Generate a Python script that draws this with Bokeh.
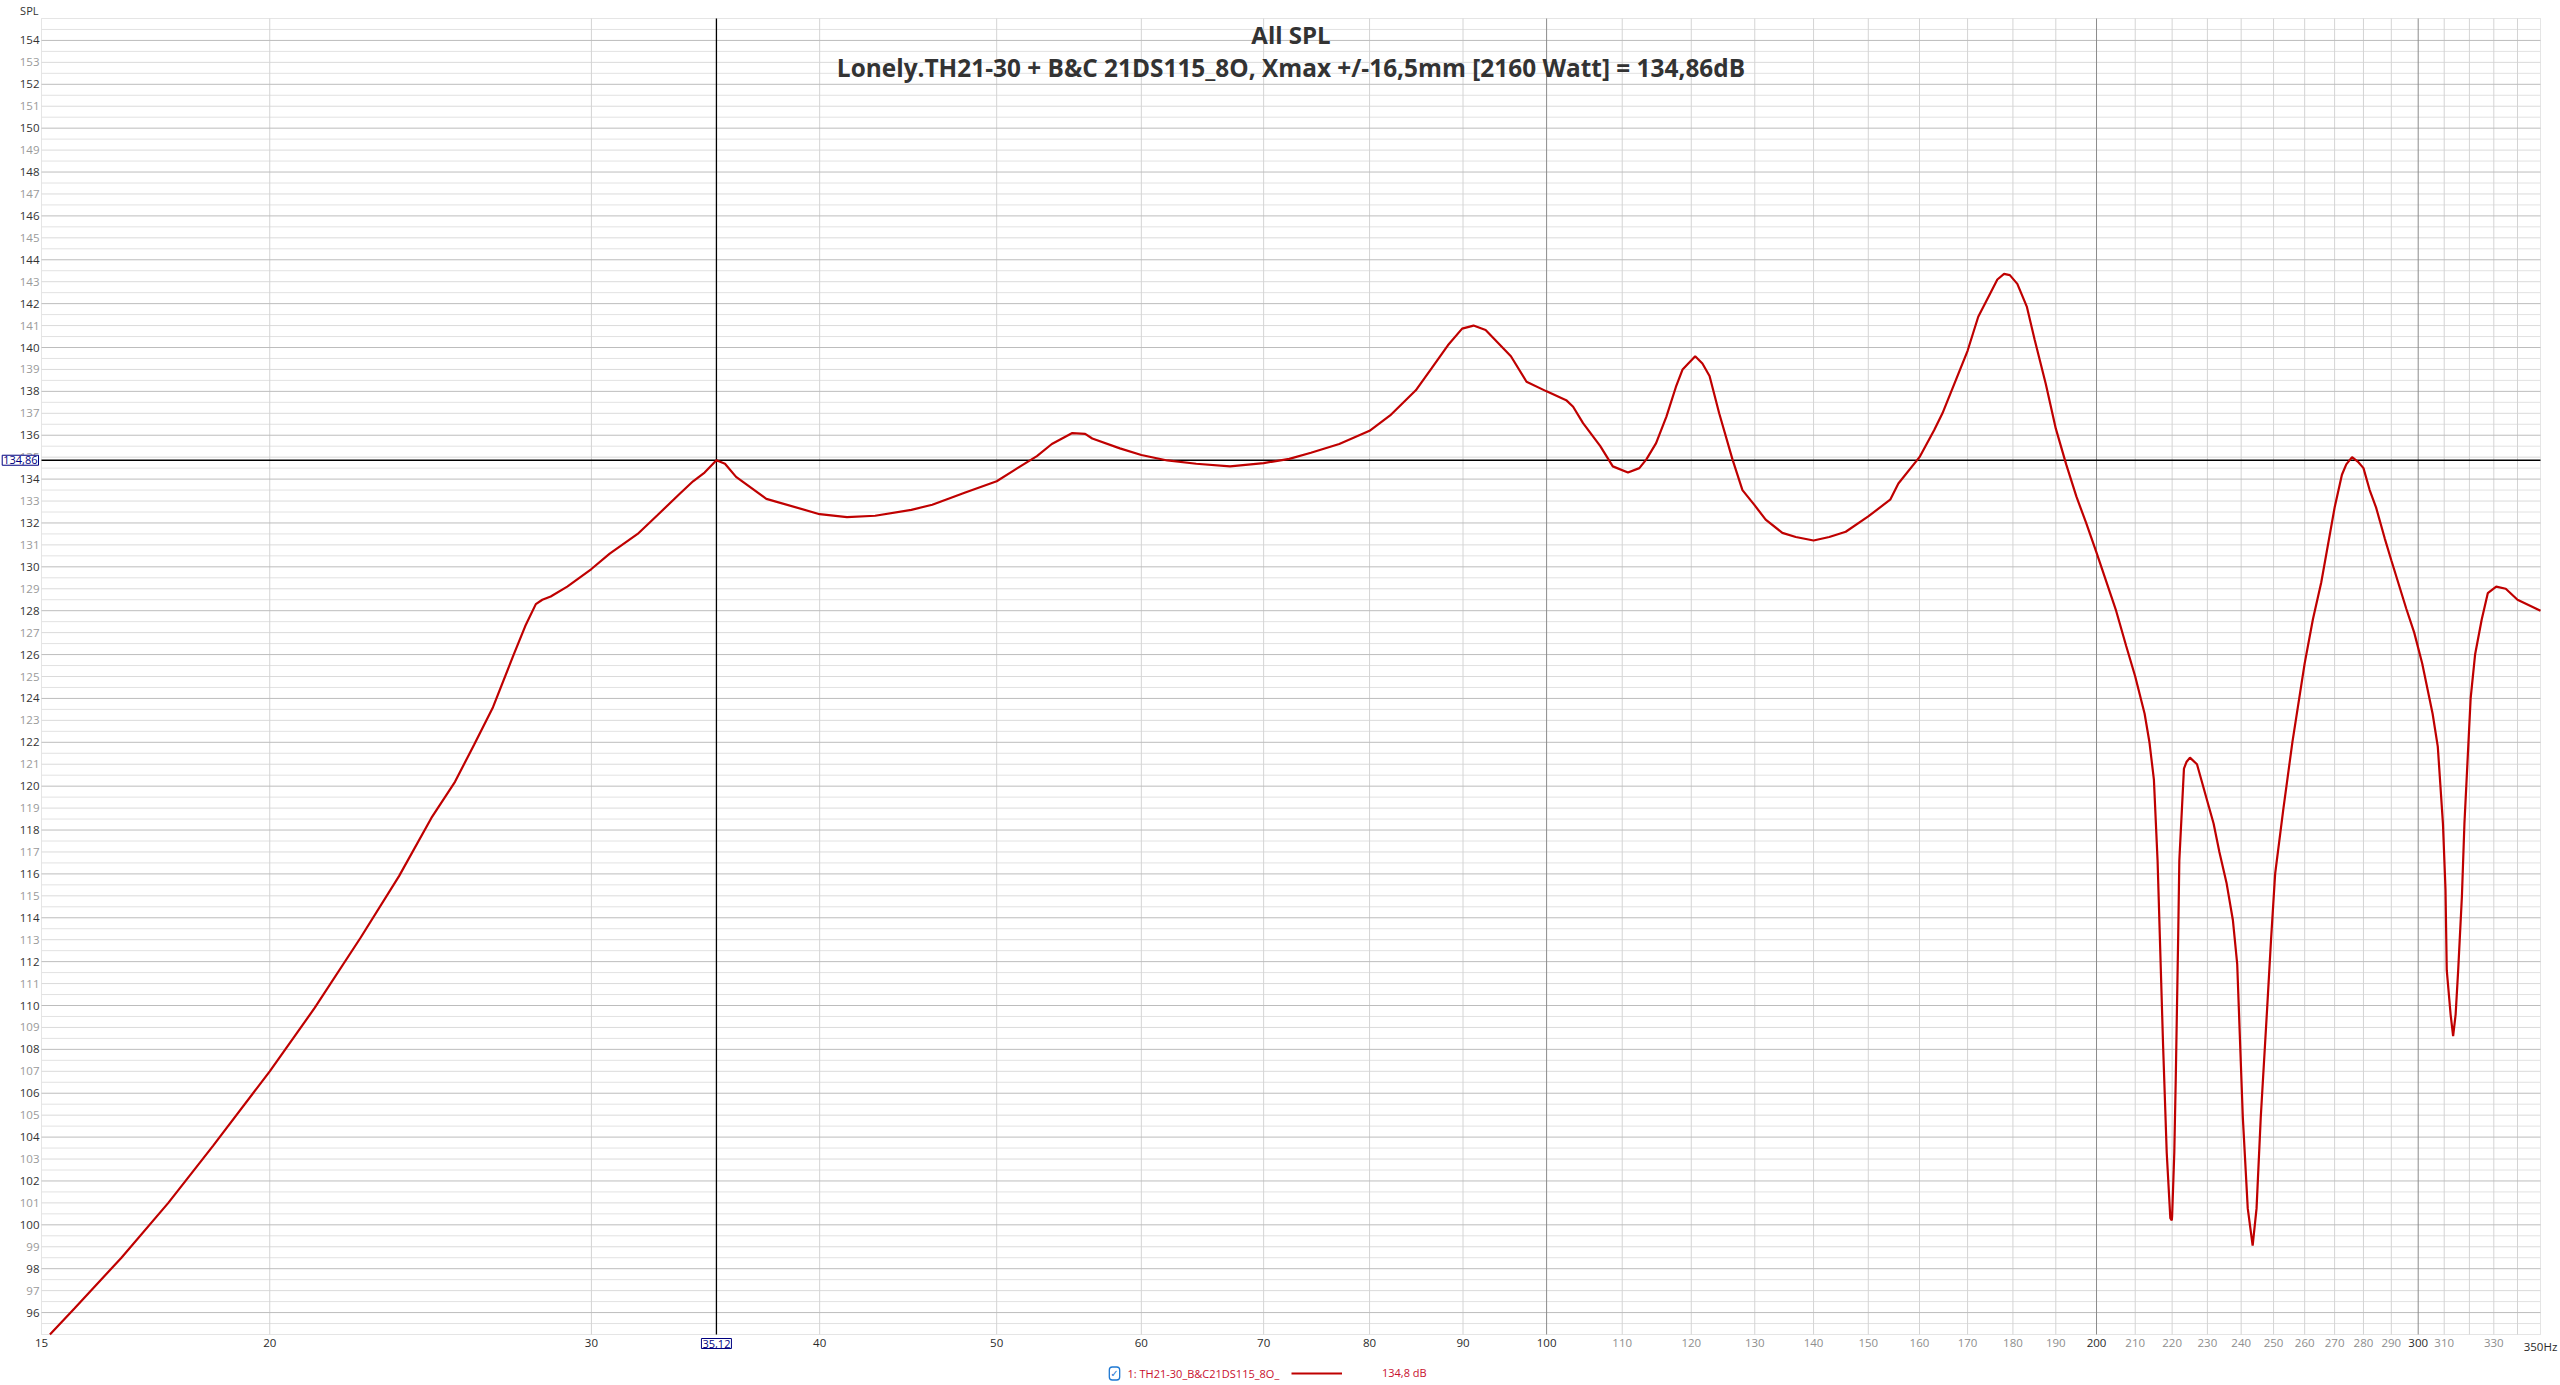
import math
from bokeh.plotting import figure
from bokeh.models import (Label, ColumnDataSource, Legend, LegendItem, Range1d, BoxAnnotation)
from bokeh.embed import file_html
from bokeh.resources import INLINE
from bokeh.core.properties import value

# ---------------- data ----------------
freq_hz = [15.16, 15.64, 16.59, 17.6, 18.62, 20.0, 21.17, 22.43, 23.54, 24.52, 25.26, 25.88, 26.5,
           27.2, 27.6, 27.97, 28.2, 28.5, 29.1, 30.0, 30.7, 31.8, 32.6, 33.5, 34.1, 34.6, 35.12,
           35.5, 36.0, 37.4, 40.0, 41.4, 42.9, 44.9, 46.1, 48.1, 50.0, 51.1, 52.6, 53.6, 55.0,
           55.9, 56.4, 58.4, 60.0, 62.0, 64.3, 67.1, 70.0, 72.3, 74.3, 77.0, 80.0, 82.1, 84.8,
           86.5, 88.3, 89.9, 91.2, 92.6, 95.6, 97.5, 100.0, 102.5, 103.4, 104.7, 107.0, 108.7,
           110.8, 112.4, 113.4, 114.8, 116.3, 117.7, 118.7, 120.6, 121.7, 122.8, 124.3, 126.4,
           128.0, 130.0, 131.8, 134.6, 136.9, 140.0, 142.8, 145.8, 150.0, 154.2, 155.8, 160.0,
           163.0, 164.7, 170.0, 172.3, 175.0, 176.5, 178.0, 179.3, 181.0, 183.2, 185.0, 187.6,
           190.0, 192.5, 195.0, 197.4, 200.0, 205.0, 207.6, 210.0, 212.5, 213.8, 215.0, 216.0,
           217.5, 218.5, 219.5, 219.9, 220.0, 220.6, 221.0, 221.7, 222.0, 223.3, 224.0, 225.0,
           227.0, 230.0, 231.8, 233.5, 235.6, 237.5, 238.8, 240.5, 242.0, 243.5, 244.7, 246.0,
           248.0, 249.2, 250.5, 253.1, 256.0, 260.0, 262.7, 265.5, 270.0, 272.5, 274.0, 276.0,
           278.0, 280.0, 282.2, 284.5, 287.6, 290.0, 295.5, 298.5, 301.5, 305.5, 307.5, 309.5,
           310.5, 311.0, 312.5, 313.5, 314.5, 315.5, 317.0, 318.0, 320.5, 322.3, 325.0, 327.5,
           331.0, 335.0, 340.0, 350.0]
spl_db = [95.0, 96.2, 98.5, 101.0, 103.6, 107.0, 109.9, 113.1, 115.9, 118.55, 120.2, 121.9, 123.6,
          126.0, 127.3, 128.3, 128.5, 128.65, 129.1, 129.9, 130.6, 131.5, 132.35, 133.3, 133.9, 134.3, 134.86,
          134.7, 134.1, 133.1, 132.4, 132.27, 132.33, 132.6, 132.83, 133.4, 133.9, 134.4, 135.05, 135.6, 136.1,
          136.06, 135.85, 135.4, 135.1, 134.85, 134.7, 134.58, 134.73, 134.92, 135.2, 135.6, 136.2, 136.9, 138.05,
          139.05, 140.1, 140.86, 141.0, 140.8, 139.6, 138.44, 138.0, 137.6, 137.3, 136.55, 135.5, 134.58,
          134.3, 134.5, 134.9, 135.64, 136.85, 138.2, 139.0, 139.6, 139.27, 138.7, 137.0, 134.9,
          133.5, 132.8, 132.15, 131.55, 131.36, 131.2, 131.36, 131.6, 132.3, 133.06, 133.8, 135.0,
          136.24, 137.0, 139.85, 141.4, 142.5, 143.1, 143.36, 143.3, 142.9, 141.85, 140.35, 138.35,
          136.3, 134.67, 133.2, 132.0, 130.65, 128.0, 126.4, 125.0, 123.3, 122.0, 120.3, 116.6,
          108.2, 103.3, 100.3, 100.2, 100.4, 103.3, 106.6, 113.3, 116.6, 120.8, 121.1, 121.3,
          121.0, 119.3, 118.3, 117.0, 115.6, 113.9, 111.9, 104.9, 100.75, 99.05, 100.75, 104.9,
          109.9, 112.98, 116.0, 118.95, 122.0, 125.6, 127.6, 129.3, 132.7, 134.2, 134.67, 135.0,
          134.8, 134.5, 133.5, 132.7, 131.3, 130.3, 128.1, 127.0, 125.6, 123.3, 121.8, 118.3,
          115.3, 111.6, 109.6, 108.6, 109.6, 111.6, 115.0, 118.3, 124.0, 126.0, 127.6, 128.8,
          129.1, 129.0, 128.5, 128.0]

title_main = "All SPL"
title_sub = "Lonely.TH21-30 + B&C 21DS115_8O, Xmax +/-16,5mm [2160 Watt] = 134,86dB"
legend_name = "1: TH21-30_B&C21DS115_8O_"
legend_value = "134,8 dB"
y_unit = "SPL"
cursor_freq = 35.12
cursor_spl = 134.86
cursor_freq_label = "35,12"
cursor_spl_label = "134,86"

x_min, x_max = 15, 350
y_min, y_max = 95, 155

y_ticks_even = list(range(96, 155, 2))
y_ticks_odd = list(range(97, 155, 2))
y_grid_half = [v + 0.5 for v in range(95, 155)]

x_ticks_dark = [15, 20, 30, 40, 50, 60, 70, 80, 90, 100, 200, 300, 350]
x_ticks_gray = [110, 120, 130, 140, 150, 160, 170, 180, 190,
                210, 220, 230, 240, 250, 260, 270, 280, 290, 310, 330]
x_label_unit = {350: "350Hz"}
x_grid_light = [20, 30, 40, 50, 60, 70, 80, 90,
                110, 120, 130, 140, 150, 160, 170, 180, 190,
                210, 220, 230, 240, 250, 260, 270, 280, 290,
                310, 320, 330, 340]
x_grid_strong = [100, 200, 300]

# ---------------- layout (pixels) ----------------
W, H = 2560, 1385
PAD_L, PAD_R, PAD_T, PAD_B = 41, 20, 18, 51
plot_w = W - PAD_L - PAD_R
plot_h = H - PAD_T - PAD_B
px_per_dec = plot_w / math.log10(x_max / x_min)
px_per_db = plot_h / (y_max - y_min)
view_x0 = x_min / 10 ** (PAD_L / px_per_dec)
view_x1 = x_max * 10 ** (PAD_R / px_per_dec)
view_y0 = y_min - PAD_B / px_per_db
view_y1 = y_max + PAD_T / px_per_db

FONT = "Open Sans"
RED = "#bf0000"
LEG_RED = "#c8102e"
NAVY = "#000080"
TICK_SIZE = "11.5px"

p = figure(width=W, height=H, x_axis_type="log",
           x_range=Range1d(view_x0, view_x1), y_range=Range1d(view_y0, view_y1),
           x_axis_location=None, y_axis_location=None,
           output_backend="svg", toolbar_location=None,
           min_border=0, min_border_left=0, min_border_right=0,
           min_border_top=0, min_border_bottom=0)
p.outline_line_color = None
p.background_fill_color = "white"
p.border_fill_color = "white"
p.grid.visible = False

# ---------------- grid ----------------
def hgrid(ticks, color):
    p.segment(x0=[x_min] * len(ticks), x1=[x_max] * len(ticks), y0=ticks, y1=ticks,
              line_color=color, line_width=1)

def vgrid(ticks, color):
    p.segment(x0=ticks, x1=ticks, y0=[y_min] * len(ticks), y1=[y_max] * len(ticks),
              line_color=color, line_width=1)

hgrid(y_grid_half, "#e2e2e2")
hgrid(y_ticks_odd, "#dadada")
vgrid(x_grid_light, "#d4d4d4")
hgrid(y_ticks_even, "#bdbdbd")
vgrid(x_grid_strong, "#8c8c8c")

p.add_layout(BoxAnnotation(left=x_min, right=x_max, bottom=y_min, top=y_max,
                           fill_alpha=0, line_color="#a8a8a8", line_width=1, level="underlay"))

# ---------------- cursor ----------------
p.segment(x0=[cursor_freq], x1=[cursor_freq], y0=[y_min], y1=[y_max],
          line_color="black", line_width=1.3)
p.segment(x0=[x_min], x1=[x_max], y0=[cursor_spl], y1=[cursor_spl],
          line_color="black", line_width=1.3)

# ---------------- curve ----------------
r = p.line(freq_hz, spl_db, line_color=RED, line_width=2.2)

# ---------------- tick labels ----------------
yl_vals = y_ticks_even + y_ticks_odd
yl_src = ColumnDataSource(dict(
    x=[x_min] * len(yl_vals), y=yl_vals, t=[str(v) for v in yl_vals],
    c=["#333333"] * len(y_ticks_even) + ["#9a9a9a"] * len(y_ticks_odd)))
p.text(x="x", y="y", text="t", text_color="c", source=yl_src, x_offset=-2,
       text_align="right", text_baseline="middle",
       text_font=value(FONT), text_font_size=value(TICK_SIZE))

xl_vals = x_ticks_dark + x_ticks_gray
xl_src = ColumnDataSource(dict(
    x=xl_vals, y=[y_min] * len(xl_vals),
    t=[x_label_unit.get(v, str(v)) for v in xl_vals],
    c=["#2a2a2a"] * len(x_ticks_dark) + ["#8e8e8e"] * len(x_ticks_gray)))
p.text(x="x", y="y", text="t", text_color="c", source=xl_src, y_offset=4,
       text_align="center", text_baseline="top",
       text_font=value(FONT), text_font_size=value(TICK_SIZE))

# unit label
p.add_layout(Label(x=x_min, y=y_max, text=y_unit, x_offset=-3, y_offset=16,
                   text_align="right", text_baseline="top", text_font=FONT,
                   text_font_size="11px", text_color="#333333"))

# cursor value boxes
p.add_layout(Label(x=x_min, y=cursor_spl, text=cursor_spl_label, x_offset=-3,
                   text_align="right", text_baseline="middle", text_font=FONT,
                   text_font_size="11px", text_color=NAVY, border_line_color=NAVY,
                   border_line_width=1, background_fill_color="white", padding=1))
p.add_layout(Label(x=cursor_freq, y=y_min, text=cursor_freq_label, y_offset=-4,
                   text_align="center", text_baseline="top", text_font=FONT,
                   text_font_size="11px", text_color=NAVY, border_line_color=NAVY,
                   border_line_width=1, background_fill_color="white", padding=1))

# ---------------- titles ----------------
p.add_layout(Label(x=x_min, y=y_max, text=title_main, x_offset=plot_w / 2, y_offset=-16,
                   text_align="center", text_baseline="middle", text_font=FONT,
                   text_font_size="24px", text_font_style="bold", text_color="#333333"))
p.add_layout(Label(x=x_min, y=y_max, text=title_sub, x_offset=plot_w / 2, y_offset=-49,
                   text_align="center", text_baseline="middle", text_font=FONT,
                   text_font_size="24.4px", text_font_style="bold", text_color="#333333"))

# ---------------- legend row ----------------
p.add_layout(Label(x=x_min, y=y_min, text="\u2713", x_offset=1073, y_offset=-39,
                   text_align="center", text_baseline="middle", text_font="DejaVu Sans",
                   text_font_size="10px", text_font_style="bold", text_color="#1e78d2",
                   border_line_color="#1e78d2", border_line_width=1.3, border_radius=3,
                   background_fill_color="white", padding=1))
p.add_layout(Label(x=x_min, y=y_min, text=legend_name, x_offset=1086, y_offset=-39,
                   text_align="left", text_baseline="middle", text_font=FONT,
                   text_font_size="11px", text_color=LEG_RED))
leg = Legend(items=[LegendItem(label=legend_value, renderers=[r])],
             location=(1291, 5), glyph_width=51, glyph_height=14, label_standoff=40,
             label_text_font=FONT, label_text_font_size="11px", label_text_color=LEG_RED,
             background_fill_alpha=0, border_line_alpha=0, padding=0, margin=0, spacing=0)
p.add_layout(leg)

open("out.html", "w").write(file_html(p, INLINE))
